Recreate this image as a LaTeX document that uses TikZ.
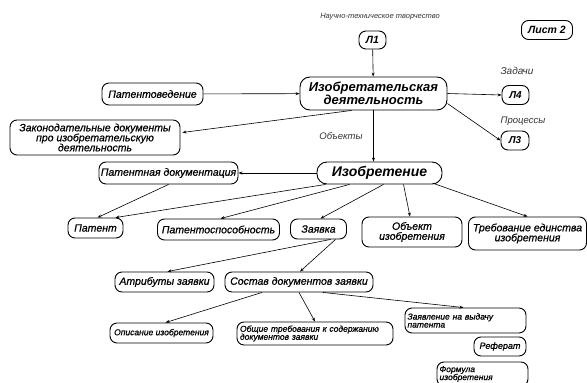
\documentclass[tikz,border=0pt]{standalone}
\usepackage{fontspec}
\setmainfont{Liberation Sans}
\newfontfamily\boxf[FakeBold=0.7]{Liberation Sans}
\usetikzlibrary{arrows.meta,calc}
\tikzset{
  box/.style={draw, line width=0.9pt, rounded corners=7pt, inner sep=0pt, align=center,
    font=\boxf\itshape\fontsize{10.5}{10}\selectfont},
  bigbox/.style={box, rounded corners=10pt, font=\bfseries\itshape\fontsize{14}{13}\selectfont},
  smallbox/.style={box, font=\boxf\itshape\fontsize{8.5}{8}\selectfont},
  lbl/.style={inner sep=0pt, font=\itshape\fontsize{9.5}{10}\selectfont, text=black!80},
  conn/.style={line width=0.6pt, -{Stealth[length=4pt,width=3pt]}}
}
\begin{document}
\begin{tikzpicture}[x=1pt,y=-1pt]
\useasboundingbox (0,0) rectangle (587,383);
% labels
\node[lbl, font=\itshape\fontsize{7.5}{8}\selectfont] (ntt) at (380,17) {Научно-техническое творчество};
\node[lbl, font=\itshape\fontsize{10}{10}\selectfont] (zad) at (517,71) {Задачи};
\node[lbl] (proc) at (523,121) {Процессы};
\node[lbl] (obj) at (341,136) {Объекты};
% nodes
\node[box, font=\bfseries\itshape\fontsize{10.5}{10}\selectfont, minimum width=27pt, minimum height=18pt] (l1) at (372.5,40) {Л1};
\node[box, font=\bfseries\itshape\fontsize{10.5}{10}\selectfont, minimum width=51pt, minimum height=19pt] (list) at (547,30) {Лист 2};
\node[bigbox, font=\bfseries\itshape\fontsize{13}{13}\selectfont, minimum width=147pt, minimum height=33pt] (izd) at (373.5,93.5) {Изобретательская\\деятельность};
\node[box, font=\bfseries\itshape\fontsize{10}{10}\selectfont, minimum width=27pt, minimum height=19pt] (l4) at (515.5,95) {Л4};
\node[box, font=\bfseries\itshape\fontsize{10}{10}\selectfont, minimum width=28pt, minimum height=19pt] (l3) at (515,140.5) {Л3};
\node[box, minimum width=101pt, minimum height=22pt] (ptv) at (152.5,94) {Патентоведение};
\node[box, minimum width=170pt, minimum height=35pt] (zak) at (95,137.5) {Законодательные документы\\про изобретательскую\\деятельность};
\node[bigbox, minimum width=125pt, minimum height=22pt] (izo) at (379.5,173) {Изобретение};
\node[box, minimum width=139pt, minimum height=22pt] (pdoc) at (168.5,173) {Патентная документация};
\node[box, minimum width=55pt, minimum height=20pt] (pat) at (95.5,228) {Патент};
\node[box, minimum width=122pt, minimum height=21pt] (psp) at (218.5,229.5) {Патентоспособность};
\node[box, minimum width=56pt, minimum height=20pt] (zay) at (318.5,229) {Заявка};
\node[box, minimum width=100pt, minimum height=30pt] (obi) at (412,232) {Объект\\изобретения};
\node[box, minimum width=118pt, minimum height=33pt] (treb) at (527.5,233.5) {Требование единства\\изобретения};
\node[box, minimum width=99pt, minimum height=20pt] (atr) at (164.5,282) {Атрибуты заявки};
\node[box, minimum width=148pt, minimum height=20pt] (sost) at (299,282) {Состав документов заявки};
\node[smallbox, minimum width=103pt, minimum height=20pt] (opis) at (161.5,333) {Описание изобретения};
\node[smallbox, align=left, minimum width=156pt, minimum height=23pt, text width=150pt] (obsh) at (315,333.5) {Общие требования к содержанию\\документов заявки};
\node[smallbox, align=left, minimum width=121pt, minimum height=25pt, text width=116pt] (zayv) at (465.5,320.5) {Заявление на выдачу\\патента};
\node[smallbox, font=\boxf\itshape\fontsize{9}{8}\selectfont, minimum width=52pt, minimum height=19pt] (ref) at (500,346.5) {Реферат};
\node[smallbox, align=left, minimum width=91pt, minimum height=24pt, text width=86pt] (form) at (482.5,374) {Формула\\изобретения};
% connectors
\draw[conn] (l1) -- (izd);
\draw[conn] (ptv) -- (izd);
\draw[conn] ($(izd.south)+(-22,0)$) -- ($(zak.east)+(2,-5)$);
\draw[conn] (izd.east) -- (l4.west);
\draw[conn] ($(izd.east)+(0,10)$) -- (l3.west);
\draw[conn] (izd.south) -- (izd.south |- izo.north);
\draw[conn] (izo.west) -- (pdoc.east);
\draw[conn] ($(izo.south)+(-54,0)$) -- ($(pat.north)+(20,0)$);
\draw[conn] (pdoc.south) -- ($(pat.north)+(2,0)$);
\draw[conn] ($(izo.south)+(-30,0)$) -- ($(psp.north)+(2,0)$);
\draw[conn] ($(izo.south)+(4,0)$) -- ($(zay.north)+(2,0)$);
\draw[conn] ($(izo.south)+(24,0)$) -- ($(obi.north)+(-2,0)$);
\draw[conn] ($(izo.south)+(54,-1)$) -- (treb.north);
\draw[conn] ($(zay.south)+(12,0)$) -- ($(atr.north)+(3,0)$);
\draw[conn] ($(zay.south)+(17,0)$) -- ($(sost.north)+(1,0)$);
\draw[conn] ($(sost.south)+(-37,0)$) -- ($(opis.north)+(4,0)$);
\draw[conn] (sost.south) -- (obsh.north);
\draw[conn] ($(sost.south)+(24,0)$) -- ($(zayv.north)+(-2,0)$);
\end{tikzpicture}
\end{document}
